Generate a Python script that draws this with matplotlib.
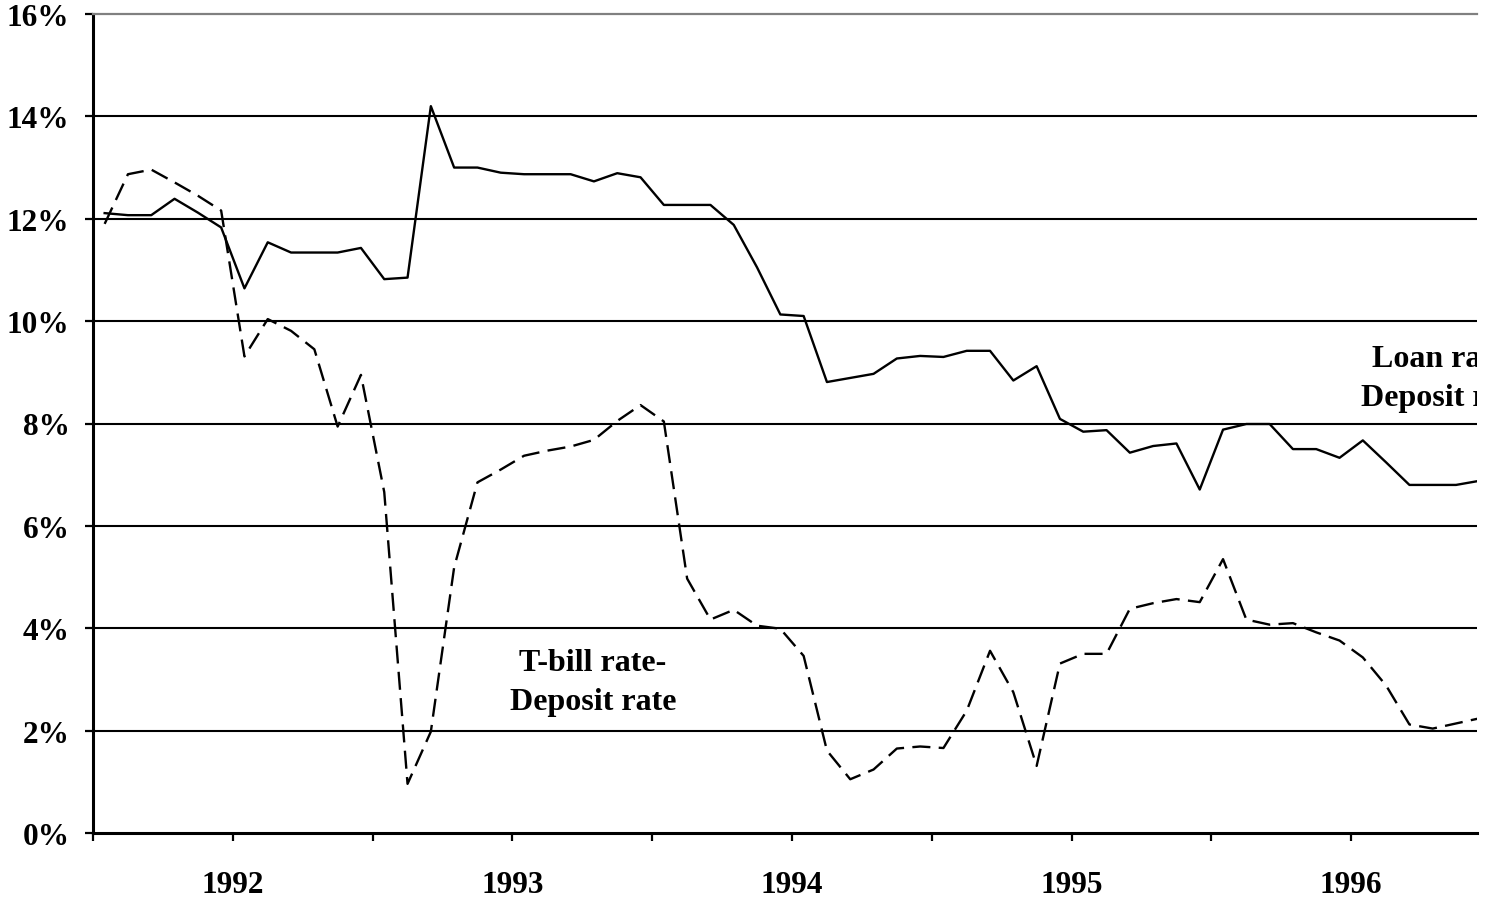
import matplotlib
matplotlib.use("Agg")
import matplotlib.pyplot as plt
from matplotlib.ticker import FixedLocator, FuncFormatter

# monthly spreads, Jul 1991 onwards (percent)
loan_minus_deposit = [
    12.11, 12.07, 12.07, 12.39, 12.12, 11.83, 10.64, 11.54, 11.34, 11.34,
    11.34, 11.43, 10.82, 10.85, 14.20, 13.00, 13.00, 12.90, 12.87, 12.87,
    12.87, 12.73, 12.89, 12.81, 12.27, 12.27, 12.27, 11.88, 11.05, 10.13,
    10.10, 8.81, 8.89, 8.97, 9.27, 9.32, 9.30, 9.42, 9.42, 8.84,
    9.12, 8.09, 7.84, 7.87, 7.43, 7.56, 7.61, 6.71, 7.88, 7.99,
    7.99, 7.50, 7.50, 7.33, 7.67, 7.24, 6.80, 6.80, 6.80, 6.88,
]
tbill_minus_deposit = [
    11.90, 12.87, 12.96, 12.71, 12.45, 12.16, 9.31, 10.04, 9.81, 9.45,
    7.94, 8.95, 6.66, 0.96, 1.98, 5.19, 6.85, 7.10, 7.37, 7.47,
    7.55, 7.68, 8.05, 8.36, 8.04, 4.97, 4.17, 4.36, 4.05, 3.99,
    3.46, 1.61, 1.05, 1.24, 1.65, 1.69, 1.66, 2.39, 3.56, 2.75,
    1.31, 3.31, 3.50, 3.50, 4.38, 4.49, 4.57, 4.51, 5.35, 4.17,
    4.07, 4.10, 3.92, 3.76, 3.43, 2.88, 2.12, 2.04, 2.14, 2.24,
]
year_labels = ["1992", "1993", "1994", "1995", "1996"]
y_ticks = [0, 2, 4, 6, 8, 10, 12, 14, 16]

plt.rcParams["font.family"] = ["Liberation Serif", "DejaVu Serif"]
plt.rcParams["font.weight"] = "bold"
plt.rcParams["lines.scale_dashes"] = False

fig = plt.figure(figsize=(14.95, 9.04), dpi=100)
ax = fig.add_axes([93 / 1495, 70 / 904, (1477 - 93) / 1495, (834 - 15) / 904])

months = list(range(len(loan_minus_deposit)))
ax.plot(months, loan_minus_deposit, color="black", lw=1.7)
ax.plot(months, tbill_minus_deposit, color="black", lw=1.7, dashes=(13, 6))

ax.set_xlim(-0.5, 58.9)
ax.set_ylim(0, 16)

# gridlines
for v in y_ticks[1:-1]:
    ax.axhline(v, color="black", lw=1.5, zorder=0)

ax.yaxis.set_major_locator(FixedLocator(y_ticks))
ax.yaxis.set_major_formatter(FuncFormatter(lambda v, p: f"{int(v)}%"))

# half-year tick marks, year label on every second one (mid-January)
x_ticks = [-0.5 + 6 * k for k in range(11)]


def year_fmt(v, p):
    k = int(round((v - 5.5) / 12))
    if abs(v - (5.5 + 12 * k)) < 0.01 and 0 <= k < len(year_labels):
        return year_labels[k]
    return ""


ax.xaxis.set_major_locator(FixedLocator(x_ticks))
ax.xaxis.set_major_formatter(FuncFormatter(year_fmt))

ax.tick_params(axis="y", direction="out", length=6, width=1.6, pad=11, labelsize=22.5)
ax.tick_params(axis="x", direction="out", length=6, width=1.6, pad=21, labelsize=22.5)

for s in ("left", "bottom"):
    ax.spines[s].set_linewidth(2.2)
    ax.spines[s].set_color("black")
ax.spines["right"].set_visible(False)
ax.spines["top"].set_color("#808080")
ax.spines["top"].set_linewidth(1.6)

ax.text(20.96, 2.95, "T-bill rate-\nDeposit rate", ha="center", va="center",
        fontsize=23, fontweight="bold", linespacing=1.45)
ax.text(57.5, 8.89, "Loan rate-\nDeposit rate", ha="center", va="center",
        fontsize=23, fontweight="bold", linespacing=1.45, clip_on=True)

fig.savefig("out.png", dpi=100)
